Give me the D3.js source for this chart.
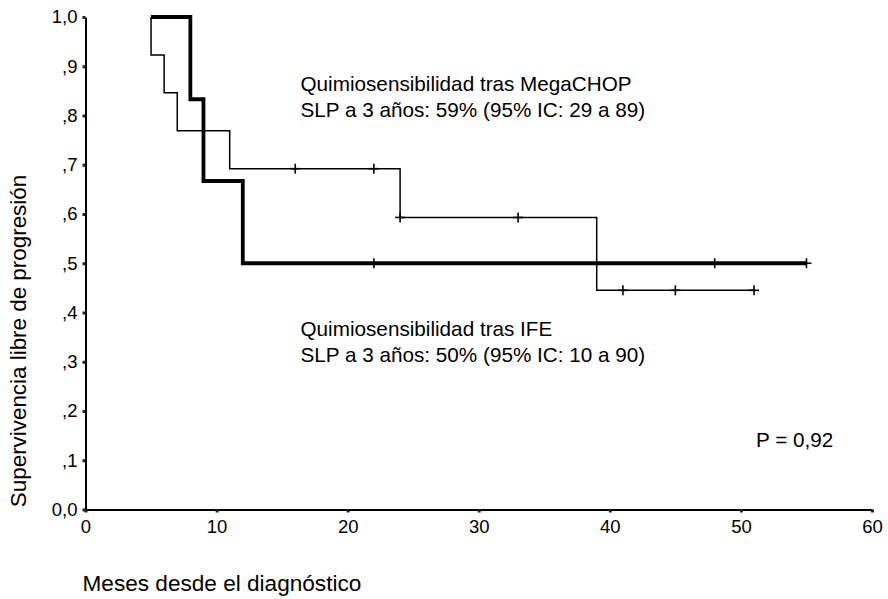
<!DOCTYPE html>
<html>
<head>
<meta charset="utf-8">
<script src="https://cdn.jsdelivr.net/npm/d3@7"></script>
<style>
  html, body { margin: 0; padding: 0; background: #fff; }
  svg { display: block; }
  text { font-family: "Liberation Sans", Arial, sans-serif; fill: #000; }
</style>
</head>
<body>
<svg id="chart" width="888" height="599"></svg>
<script>
// Kaplan-Meier curves: progression-free survival by chemosensitivity group

// Group after MegaCHOP (thin line)
const megaStart = 5;
const megaEventTimes = [5, 6, 7, 11, 24, 39];
const megaSurvival   = [0.923, 0.846, 0.769, 0.692, 0.593, 0.445];
const megaEnd = 51;
const megaCensored = [16, 22, 24, 33, 41, 45, 51];

// Group after IFE (thick line)
const ifeStart = 5;
const ifeEventTimes = [8, 9, 12];
const ifeSurvival   = [0.833, 0.667, 0.5];
const ifeEnd = 55;
const ifeCensored = [22, 48, 55];

// Axis ticks
const xTicks = [0, 10, 20, 30, 40, 50, 60];
const yTicks = [0, 0.1, 0.2, 0.3, 0.4, 0.5, 0.6, 0.7, 0.8, 0.9, 1.0];
const yTickLabels = ["0,0", ",1", ",2", ",3", ",4", ",5", ",6", ",7", ",8", ",9", "1,0"];

const svg = d3.select("#chart");

const x = d3.scaleLinear().domain([0, 60]).range([85.5, 872]);
const y = d3.scaleLinear().domain([0, 1]).range([509.5, 17]);

// Build step points for a survival curve
function stepPoints(start, times, surv, end) {
  const pts = [{ t: start, s: 1 }];
  times.forEach((t, i) => pts.push({ t: t, s: surv[i] }));
  pts.push({ t: end, s: surv[surv.length - 1] });
  return pts;
}

// Survival level at time t (right-continuous)
function survivalAt(t, start, times, surv) {
  let s = 1;
  times.forEach((tt, i) => { if (tt <= t) s = surv[i]; });
  return s;
}

const line = d3.line()
  .x(d => x(d.t))
  .y(d => y(d.s))
  .curve(d3.curveStepAfter);

// Axes
const xAxis = d3.axisBottom(x)
  .tickValues(xTicks)
  .tickSize(3)
  .tickSizeOuter(0)
  .tickPadding(7.5)
  .tickFormat(d3.format("d"));

const yAxis = d3.axisLeft(y)
  .tickValues(yTicks)
  .tickSize(3)
  .tickSizeOuter(0)
  .tickPadding(5)
  .tickFormat((d, i) => yTickLabels[i]);

const gx = svg.append("g")
  .attr("transform", `translate(0,${y(0)})`)
  .call(xAxis);
const gy = svg.append("g")
  .attr("transform", `translate(${x(0)},0)`)
  .call(yAxis);

[gx, gy].forEach(g => {
  g.select(".domain").attr("stroke", "#000").attr("stroke-width", 2);
  g.selectAll(".tick line").attr("stroke", "#222").attr("stroke-width", 3);
  g.selectAll(".tick text")
    .attr("fill", "#000")
    .style("font-family", '"Liberation Sans", Arial, sans-serif')
    .style("font-size", "18.5px");
});

// Curves
const plot = svg.append("g");

function drawCurve(start, times, surv, end, censored, width) {
  plot.append("path")
    .datum(stepPoints(start, times, surv, end))
    .attr("fill", "none")
    .attr("stroke", "#000")
    .attr("stroke-width", width)
    .attr("d", line);

  const marks = plot.append("g");
  censored.forEach(t => {
    const cx = x(t), cy = y(survivalAt(t, start, times, surv));
    marks.append("line")
      .attr("x1", cx).attr("x2", cx)
      .attr("y1", cy - 5).attr("y2", cy + 5)
      .attr("stroke", "#000").attr("stroke-width", 1.6);
    marks.append("line")
      .attr("x1", cx - 5).attr("x2", cx + 5)
      .attr("y1", cy).attr("y2", cy)
      .attr("stroke", "#000").attr("stroke-width", 1.6);
  });
}

drawCurve(megaStart, megaEventTimes, megaSurvival, megaEnd, megaCensored, 1.5);
drawCurve(ifeStart, ifeEventTimes, ifeSurvival, ifeEnd, ifeCensored, 3.8);

// Annotations
const note = svg.append("g").style("font-size", "20.7px");
note.append("text").attr("x", 300.5).attr("y", 90.5).text("Quimiosensibilidad tras MegaCHOP");
note.append("text").attr("x", 300.5).attr("y", 116.5).text("SLP a 3 años: 59% (95% IC: 29 a 89)");
note.append("text").attr("x", 300.5).attr("y", 335.5).text("Quimiosensibilidad tras IFE");
note.append("text").attr("x", 300.5).attr("y", 361.5).text("SLP a 3 años: 50% (95% IC: 10 a 90)");
note.append("text").attr("x", 756).attr("y", 447).text("P = 0,92");

// Axis titles
svg.append("text")
  .attr("transform", "translate(26,341) rotate(-90)")
  .attr("text-anchor", "middle")
  .style("font-size", "22.4px")
  .text("Supervivencia libre de progresión");

svg.append("text")
  .attr("x", 82.5).attr("y", 590.5)
  .style("font-size", "22.6px")
  .text("Meses desde el diagnóstico");
</script>
</body>
</html>
